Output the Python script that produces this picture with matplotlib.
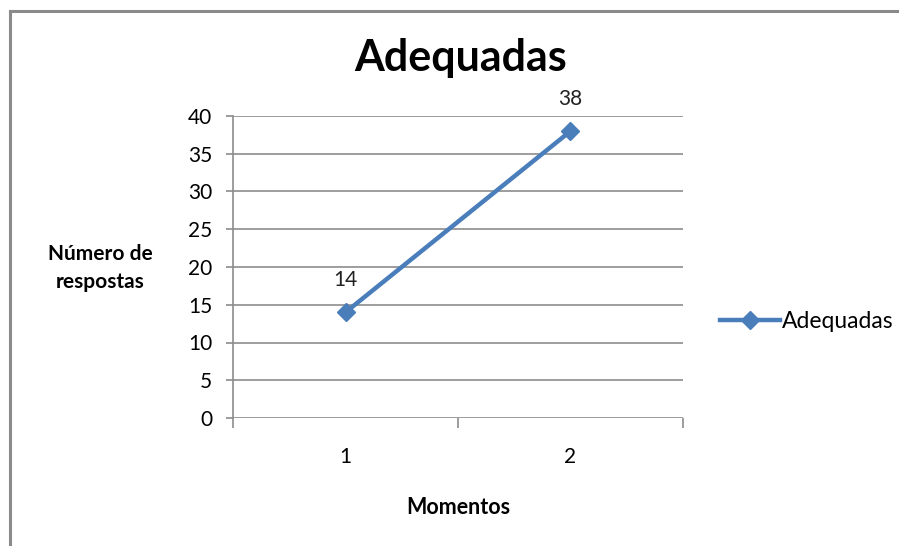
import matplotlib.pyplot as plt
from matplotlib.lines import Line2D

momentos = [1, 2]
adequadas = [14, 38]
x_labels = ['1', '2']
y_ticks = [0, 5, 10, 15, 20, 25, 30, 35, 40]

plt.rcParams['font.family'] = ['Lato', 'DejaVu Sans']

fig = plt.figure(figsize=(8.99, 5.46), dpi=100)

# gray frame of the chart area (left and top edges visible)
fig.add_artist(Line2D([10/899, 10/899], [0, 1 - 11/546], transform=fig.transFigure,
                      color='#8a8a8a', lw=2.2))
fig.add_artist(Line2D([10/899, 1], [1 - 11/546, 1 - 11/546], transform=fig.transFigure,
                      color='#8a8a8a', lw=2.2))

ax = fig.add_axes([233/899, 128/546, 450/899, 302/546])
blue = '#4a7ebb'
grid = '#8c8c8c'

ax.plot(momentos, adequadas, color=blue, lw=3.2, marker='D', markersize=9,
        label='Adequadas')
for x, y in zip(momentos, adequadas):
    ax.annotate(str(y), (x, y), xytext=(0, 16), textcoords='offset points',
                ha='center', va='bottom', fontsize=15, color='#222222')

ax.set_xlim(0.5, 2.5)
ax.set_ylim(0, 40)
ax.set_yticks(y_ticks)
ax.set_xticks([0.5, 1.5, 2.5])
ax.set_xticklabels([])
ax.set_xticks(momentos, minor=True)
ax.set_xticklabels(x_labels, minor=True)
ax.tick_params(axis='x', which='minor', length=0, pad=21, labelsize=15)
ax.tick_params(axis='x', which='major', length=7, color=grid, width=1.2)
ax.tick_params(axis='y', length=5, color=grid, width=1.2, labelsize=15, pad=10)

for v in y_ticks:
    ax.axhline(v, color=grid, lw=1.2, zorder=0)
for side in ['top', 'right', 'bottom']:
    ax.spines[side].set_visible(False)
ax.spines['left'].set_color(grid)
ax.spines['left'].set_linewidth(1.2)

fig.text(461/899, 1 - 58/546, 'Adequadas', ha='center', va='center',
         fontsize=31, fontweight='bold')
fig.text(458/899, 1 - 507/546, 'Momentos', ha='center', va='center',
         fontsize=15.5, fontweight='bold')
fig.text(100/899, 1 - 268/546, 'Número de\nrespostas', ha='center', va='center',
         fontsize=15, fontweight='bold', linespacing=1.45)

ax.legend(loc='center left', bbox_to_anchor=(720/899, 1 - 322/546),
          bbox_transform=fig.transFigure, frameon=False, fontsize=16.5,
          handlelength=2.6, handletextpad=0.1, borderaxespad=0, borderpad=0)

fig.savefig('out.png', dpi=100)
